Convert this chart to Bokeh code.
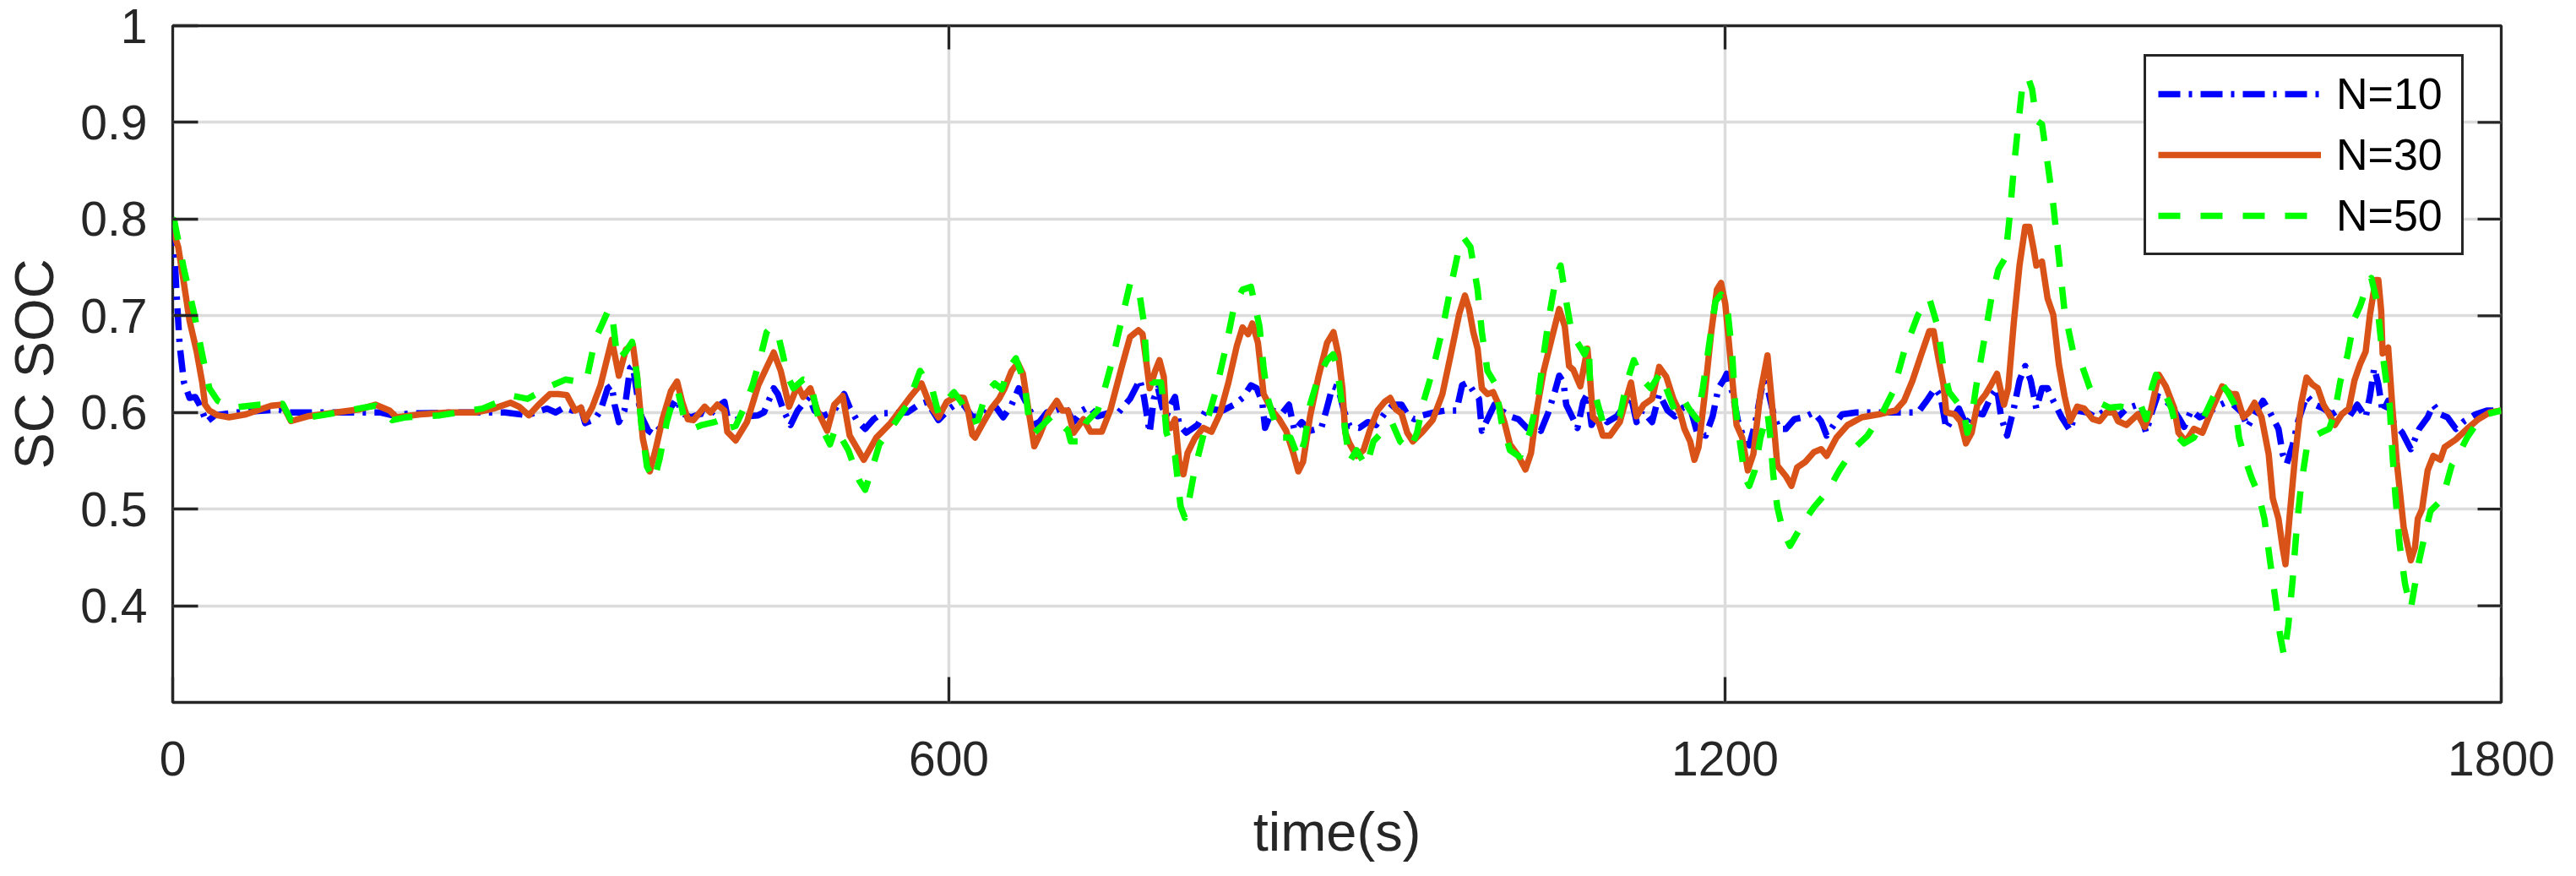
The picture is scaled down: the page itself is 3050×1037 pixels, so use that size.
import math
from bokeh.plotting import figure
from bokeh.models import Range1d, FixedTicker
from bokeh.embed import file_html
from bokeh.resources import INLINE

# ---------------- data ----------------
t10 = [0, 1.1, 3.2, 5.4, 8.7, 13.0, 17.4, 20.7, 26.1, 32.6, 50, 82.7, 87, 120, 160, 169.7, 185, 220, 256.8, 274.2, 289.4, 296,
       302.4, 309, 315.5, 318.8, 326.4, 330.7, 336.2, 339.4, 341.6, 344.9, 349.2, 353.6, 355.7, 359, 362.3, 367.7, 372.1, 378.6,
       385.1, 389.5, 393.8, 400.4, 409.1, 414.5, 420, 426.5, 428.7, 435.2, 443.9, 452.6, 457, 461.3, 464.6, 467.8, 472.2, 477.6,
       483.1, 488.5, 491.8, 496.1, 502.6, 511.4, 519, 523.3, 528.8, 535.3, 541.8, 548.3, 568, 576.6, 583.2, 591.9, 600.6, 605,
       611.5, 618.1, 624.6, 631.1, 636.6, 642, 648.5, 654, 658.3, 662.7, 668.1, 675.7, 682.3, 689.9, 696.4, 702.9, 708.4, 714.9,
       722.5, 731.2, 740, 744.3, 747.6, 750.8, 755.2, 758.4, 761.7, 765, 768.2, 771.5, 774.8, 778, 783.5, 792.2, 798.7, 805.2,
       811.8, 820.5, 827, 833.5, 837.9, 842.2, 844.4, 849.8, 857.5, 862.9, 867.2, 872.7, 879.2, 887.9, 892.3, 896.6, 901, 905.3,
       909.7, 917.3, 923.8, 930.3, 936.9, 943.4, 949.9, 955.4, 959.7, 966.2, 975, 983.6, 992.4, 996.7, 1001.1, 1005.4, 1009.8,
       1012, 1017.4, 1021.7, 1027.2, 1033.7, 1040.2, 1046.8, 1051.1, 1057.6, 1063.1, 1068.5, 1071.8, 1075.1, 1077.2, 1081.6,
       1085.9, 1090.3, 1093.6, 1096.8, 1102.3, 1108.8, 1116.4, 1122.9, 1127.3, 1131.6, 1136, 1143.6, 1149.1, 1155.6, 1161.1,
       1167.5, 1173, 1178.4, 1185, 1190.4, 1194.8, 1199.1, 1201.3, 1205.6, 1210, 1214.3, 1218.7, 1223, 1229.5, 1232.8, 1237.2,
       1241.5, 1247, 1253.5, 1261.1, 1268.7, 1274.2, 1278.5, 1284, 1290.5, 1301.4, 1349.2, 1355.8, 1362.3, 1366.6, 1371, 1376.4,
       1380.8, 1386.2, 1392.8, 1399.3, 1405.8, 1410.2, 1413.4, 1418, 1423.2, 1427.6, 1432, 1436.3, 1440.6, 1445, 1449.3, 1453.7,
       1460.2, 1466.8, 1471.1, 1479.8, 1486.3, 1497.2, 1503.7, 1510.3, 1519, 1525.5, 1529.8, 1534.2, 1540.7, 1545.1, 1550.5,
       1554.9, 1560.3, 1566.8, 1572.3, 1579.9, 1586.4, 1592.9, 1599.5, 1603.8, 1610.4, 1615.8, 1621.2, 1627.8, 1631, 1634.3,
       1638.7, 1643, 1649.5, 1656.1, 1662.6, 1669.1, 1675.7, 1682.2, 1688.7, 1695.2, 1698.5, 1701.8, 1705, 1708.3, 1712.6,
       1716.9, 1723.5, 1730.1, 1736.6, 1743.1, 1747.5, 1752.9, 1758.4, 1764.9, 1771.4, 1780.1, 1788.8, 1800]
v10 = [0.795, 0.771, 0.718, 0.669, 0.631, 0.615, 0.616, 0.608, 0.590, 0.597, 0.600, 0.603, 0.600, 0.600, 0.600, 0.597, 0.599, 0.600,
       0.600, 0.597, 0.604, 0.600, 0.605, 0.602, 0.605, 0.589, 0.593, 0.602, 0.625, 0.628, 0.608, 0.590, 0.602, 0.646, 0.648,
       0.619, 0.596, 0.581, 0.577, 0.587, 0.605, 0.614, 0.599, 0.595, 0.599, 0.596, 0.605, 0.611, 0.596, 0.592, 0.596, 0.597,
       0.600, 0.614, 0.625, 0.619, 0.602, 0.587, 0.602, 0.611, 0.616, 0.602, 0.596, 0.602, 0.619, 0.605, 0.592, 0.583, 0.593,
       0.599, 0.600, 0.608, 0.611, 0.592, 0.604, 0.608, 0.608, 0.595, 0.597, 0.606, 0.605, 0.595, 0.608, 0.625, 0.614, 0.602,
       0.587, 0.600, 0.602, 0.606, 0.590, 0.602, 0.606, 0.596, 0.599, 0.600, 0.614, 0.625, 0.634, 0.616, 0.579, 0.614, 0.625,
       0.605, 0.596, 0.608, 0.616, 0.587, 0.579, 0.587, 0.602, 0.603, 0.602, 0.608, 0.615, 0.628, 0.625, 0.611, 0.584, 0.602,
       0.599, 0.608, 0.581, 0.590, 0.581, 0.584, 0.605, 0.627, 0.625, 0.602, 0.586, 0.584, 0.590, 0.587, 0.599, 0.608, 0.608,
       0.596, 0.593, 0.597, 0.600, 0.602, 0.602, 0.628, 0.631, 0.622, 0.614, 0.581, 0.596, 0.608, 0.602, 0.596, 0.593, 0.584,
       0.593, 0.581, 0.599, 0.622, 0.638, 0.631, 0.608, 0.596, 0.584, 0.611, 0.619, 0.587, 0.602, 0.590, 0.596, 0.608, 0.616,
       0.590, 0.602, 0.590, 0.619, 0.602, 0.596, 0.605, 0.605, 0.579, 0.576, 0.596, 0.625, 0.634, 0.640, 0.621, 0.591, 0.574,
       0.566, 0.587, 0.633, 0.625, 0.600, 0.583, 0.583, 0.593, 0.595, 0.600, 0.591, 0.576, 0.587, 0.598, 0.600, 0.600, 0.612,
       0.625, 0.617, 0.583, 0.595, 0.604, 0.587, 0.600, 0.598, 0.617, 0.625, 0.595, 0.576, 0.604, 0.633, 0.648, 0.633, 0.604,
       0.625, 0.625, 0.612, 0.595, 0.581, 0.602, 0.600, 0.595, 0.605, 0.595, 0.604, 0.608, 0.579, 0.600, 0.617, 0.612, 0.606,
       0.595, 0.585, 0.602, 0.595, 0.598, 0.606, 0.610, 0.608, 0.600, 0.585, 0.600, 0.612, 0.600, 0.583, 0.557, 0.547, 0.566,
       0.591, 0.617, 0.608, 0.604, 0.598, 0.604, 0.595, 0.608, 0.595, 0.617, 0.646, 0.629, 0.600, 0.612, 0.589, 0.579, 0.562,
       0.583, 0.595, 0.608, 0.598, 0.595, 0.583, 0.591, 0.598, 0.602, 0.602]

t30 = [0, 2.2, 4.3, 8.7, 13.0, 18.5, 22.8, 25.0, 28.3, 34.8, 43.5, 56.6, 67.4, 76.2, 84.9, 91.4, 104.4, 126.2, 143.6, 156.7, 167.6,
       173.0, 191.5, 213.3, 235.0, 248.1, 261.1, 267.7, 275.3, 282.9, 291.6, 298, 304.6, 311.1, 315.5, 318.8, 324.2, 330.7, 339.4,
       344.9, 350.3, 355.7, 359, 363.4, 368.8, 373.2, 378.6, 385.1, 389.9, 393.8, 398.2, 402.5, 411.2, 415.6, 421, 426.5, 428.7,
       435.2, 443.9, 452.6, 464.6, 470, 476.5, 483.1, 487.4, 492.9, 498.3, 505.9, 511.4, 517.9, 523.3, 534.2, 544, 554.9, 570.1,
       578.8, 585.3, 591.9, 598.4, 605, 611.5, 614.8, 618.1, 620.2, 626.8, 633.3, 638.7, 643.1, 648.5, 653.3, 657.2, 661.6, 666,
       670.3, 676.8, 683.4, 687.7, 692.1, 696.4, 704, 709.5, 718.2, 724.7, 733.4, 740, 746.5, 749.7, 753, 755.2, 759.5, 762.8,
       766.1, 768.2, 771.5, 774.8, 778, 781.3, 784.5, 790, 796.5, 803, 809.6, 816.1, 822.6, 827, 831.3, 834.6, 838.9, 843.3,
       849.8, 855.3, 860.7, 866.2, 870.1, 873.8, 879.2, 885.7, 892.3, 897.3, 901, 904.2, 906.4, 909.7, 915.1, 920.5, 926, 931.4,
       936.9, 941.2, 945.6, 949.9, 954.3, 958.6, 966.2, 973.9, 981.5, 988, 994.5, 998.9, 1002.1, 1005.4, 1008.7, 1012, 1016.3,
       1020.7, 1025, 1029.4, 1033.7, 1040.2, 1045.7, 1050, 1054.4, 1059.8, 1066.3, 1071.8, 1076.1, 1079.4, 1082.7, 1088.1,
       1093.6, 1095.7, 1097.9, 1102.3, 1105.5, 1111, 1118.6, 1124, 1127.3, 1131.6, 1137.1, 1143.6, 1149.1, 1154.5, 1160, 1165.4,
       1168.6, 1173, 1176.3, 1179.5, 1183.9, 1189.3, 1193.7, 1196.9, 1200.2, 1204.5, 1208.9, 1213.2, 1217.6, 1221.9, 1227.4,
       1232.8, 1236.1, 1240.4, 1247, 1251.3, 1255.7, 1262.2, 1268.7, 1274.2, 1278.5, 1286.1, 1294.8, 1305.7, 1318.8, 1331.8,
       1338.4, 1344.9, 1351.4, 1357.9, 1361.2, 1364.5, 1368.8, 1371, 1377.5, 1381.9, 1386.2, 1390.6, 1395, 1401.5, 1405.8,
       1410.2, 1413.4, 1415.6, 1418.9, 1423.2, 1427.6, 1432, 1435.2, 1438.5, 1440.6, 1445, 1449.3, 1453.7, 1458, 1462.4, 1466.8,
       1472.2, 1477.6, 1484.2, 1489.6, 1495, 1500.5, 1503.7, 1510.3, 1519, 1524.4, 1528.8, 1535.3, 1540.7, 1547.3, 1550.5, 1556,
       1562.5, 1569, 1576.6, 1584.3, 1590.8, 1595.1, 1600.6, 1605, 1609.3, 1614.7, 1620.2, 1623.4, 1627.8, 1631, 1633.2, 1636.5,
       1640.8, 1645.2, 1649.5, 1653.9, 1658.2, 1662.6, 1667, 1671.3, 1676.7, 1682.2, 1686.5, 1690.9, 1695.2, 1698.5, 1702.9,
       1705, 1707.2, 1708.3, 1712.6, 1715.9, 1719.2, 1724.6, 1730.1, 1733.3, 1735.5, 1738.8, 1743.1, 1747.5, 1752.9, 1756.2,
       1764.9, 1773.6, 1782.3, 1791, 1800]
v30 = [0.795, 0.780, 0.771, 0.733, 0.695, 0.663, 0.631, 0.608, 0.602, 0.597, 0.595, 0.598, 0.603, 0.607, 0.608, 0.591, 0.596, 0.600,
       0.603, 0.608, 0.602, 0.595, 0.598, 0.600, 0.600, 0.604, 0.610, 0.606, 0.597, 0.608, 0.619, 0.619, 0.618, 0.602, 0.605,
       0.592, 0.605, 0.628, 0.675, 0.638, 0.665, 0.670, 0.637, 0.573, 0.539, 0.561, 0.593, 0.622, 0.632, 0.611, 0.593, 0.592,
       0.606, 0.600, 0.608, 0.602, 0.580, 0.571, 0.590, 0.628, 0.662, 0.643, 0.606, 0.628, 0.616, 0.625, 0.602, 0.581, 0.608,
       0.617, 0.576, 0.551, 0.574, 0.589, 0.616, 0.630, 0.608, 0.595, 0.611, 0.616, 0.615, 0.602, 0.577, 0.574, 0.590, 0.605,
       0.614, 0.625, 0.643, 0.651, 0.640, 0.602, 0.565, 0.577, 0.599, 0.612, 0.602, 0.602, 0.579, 0.593, 0.580, 0.580, 0.602,
       0.646, 0.678, 0.685, 0.681, 0.648, 0.625, 0.643, 0.654, 0.637, 0.590, 0.584, 0.593, 0.549, 0.536, 0.558, 0.573, 0.584,
       0.580, 0.599, 0.631, 0.669, 0.688, 0.681, 0.692, 0.672, 0.619, 0.602, 0.593, 0.581, 0.558, 0.539, 0.549, 0.596, 0.637,
       0.672, 0.683, 0.660, 0.625, 0.579, 0.568, 0.555, 0.561, 0.584, 0.602, 0.611, 0.615, 0.603, 0.599, 0.579, 0.570, 0.580,
       0.592, 0.619, 0.660, 0.702, 0.721, 0.707, 0.683, 0.666, 0.625, 0.619, 0.621, 0.608, 0.590, 0.567, 0.555, 0.541, 0.558,
       0.602, 0.643, 0.678, 0.707, 0.689, 0.648, 0.644, 0.627, 0.666, 0.634, 0.595, 0.590, 0.576, 0.576, 0.590, 0.616, 0.631,
       0.596, 0.608, 0.614, 0.647, 0.637, 0.614, 0.599, 0.583, 0.570, 0.551, 0.564, 0.614, 0.683, 0.727, 0.734, 0.712, 0.650,
       0.587, 0.574, 0.540, 0.557, 0.621, 0.659, 0.612, 0.545, 0.534, 0.524, 0.543, 0.549, 0.559, 0.562, 0.555, 0.574, 0.587,
       0.595, 0.598, 0.602, 0.612, 0.633, 0.659, 0.684, 0.684, 0.659, 0.629, 0.600, 0.598, 0.591, 0.568, 0.579, 0.608, 0.619,
       0.629, 0.640, 0.621, 0.608, 0.625, 0.693, 0.752, 0.792, 0.792, 0.769, 0.752, 0.756, 0.718, 0.701, 0.650, 0.617, 0.591,
       0.606, 0.604, 0.593, 0.591, 0.600, 0.600, 0.591, 0.587, 0.598, 0.585, 0.600, 0.639, 0.627, 0.604, 0.579, 0.570, 0.583,
       0.579, 0.604, 0.627, 0.619, 0.619, 0.595, 0.600, 0.610, 0.595, 0.557, 0.511, 0.490, 0.460, 0.443, 0.494, 0.557, 0.608,
       0.636, 0.629, 0.625, 0.608, 0.598, 0.587, 0.598, 0.604, 0.633, 0.650, 0.663, 0.701, 0.737, 0.737, 0.705, 0.661, 0.667,
       0.604, 0.549, 0.481, 0.447, 0.460, 0.490, 0.500, 0.540, 0.555, 0.551, 0.564, 0.572, 0.583, 0.593, 0.600, 0.602]

t50 = [0, 1.1, 8.7, 16.3, 22.8, 28.3, 34.8, 45.7, 67.4, 84.9, 91.4, 115.3, 148, 156.7, 169.7, 180.6, 206.7, 239.4, 263.3, 274.2,
       291.6, 303.5, 317.7, 320.9, 326.4, 337.2, 340.5, 343.8, 350.3, 355.1, 359, 362.3, 366.6, 372.1, 376.4, 381.9, 387.3, 390.6,
       396, 403.6, 409.1, 418.9, 424.3, 427.6, 435.2, 441.7, 448.2, 453.7, 459.1, 462.4, 467.8, 471.1, 475.4, 479.8, 487.4, 492.9,
       497.2, 500.5, 508.1, 512.4, 522.2, 530.9, 535.3, 541.8, 546.2, 557.1, 568, 577.7, 587.5, 591.9, 598, 603.9, 609.4, 618.1,
       622.4, 629, 635.5, 640.9, 646.4, 651.8, 658.3, 662.7, 666, 672.5, 680.1, 692.1, 694.2, 700.8, 706.2, 715, 719.3, 725.8,
       733.4, 740, 746.5, 750.8, 753, 757.3, 763.9, 767.1, 768.2, 774.8, 779.1, 782.4, 785.6, 790, 794.4, 798.7, 806.3, 813.9,
       820.5, 827, 833.5, 840.1, 843.3, 846.6, 852, 857.5, 864, 870.5, 874.9, 879.2, 885.7, 892.3, 897, 899.9, 903.1, 906.4,
       909.7, 915.1, 922.7, 928.2, 935.8, 942.3, 948.8, 956.4, 961.9, 966.2, 973.9, 981.5, 988, 994.5, 997.8, 1003.2, 1008.7,
       1012, 1016.3, 1021.7, 1025, 1027.2, 1033.7, 1041.3, 1049, 1055.5, 1059.8, 1064.2, 1069.6, 1072.9, 1077.2, 1081.6, 1086,
       1091.4, 1094.6, 1095.7, 1100.1, 1105.5, 1112, 1118.6, 1124, 1129.5, 1136, 1142.5, 1150.1, 1154.5, 1161, 1167.5, 1173,
       1178.4, 1182.8, 1188.2, 1192.6, 1196.9, 1202.3, 1205.6, 1207.8, 1211, 1215.4, 1218.7, 1223, 1227.4, 1232.8, 1235, 1237.2,
       1240.4, 1244.8, 1250.2, 1260, 1268.7, 1279.6, 1288.3, 1299.2, 1310.1, 1321, 1329.7, 1338.4, 1349.2, 1357.9, 1364.5,
       1368.8, 1373.2, 1379.7, 1384.1, 1387.3, 1390.6, 1393.9, 1399.3, 1405.8, 1411.3, 1416.7, 1420, 1423.2, 1426.5, 1429.8,
       1434.1, 1437.4, 1440.6, 1445, 1449.3, 1453.7, 1458, 1462.4, 1469, 1475.5, 1482, 1489.6, 1497.2, 1505.9, 1512.4, 1521.1,
       1525.5, 1529.8, 1533.1, 1539.6, 1545.1, 1550.5, 1554.9, 1562.5, 1570.1, 1577.7, 1583.2, 1588.6, 1594, 1597.3, 1601.7,
       1607.1, 1612.5, 1616.9, 1621.2, 1625.6, 1628.9, 1632.1, 1635.4, 1638.7, 1641.9, 1645.2, 1649.5, 1653.9, 1660.4, 1667,
       1671.3, 1675.7, 1681.1, 1686.5, 1690.9, 1695.2, 1699.6, 1704, 1707.2, 1710.5, 1713.7, 1715.9, 1718.1, 1721.4, 1725.7,
       1730.1, 1733.3, 1736.6, 1740.9, 1745.3, 1751.8, 1757.3, 1761.6, 1767.1, 1773.6, 1780.1, 1788.8, 1800]
v50 = [0.800, 0.799, 0.748, 0.704, 0.660, 0.625, 0.612, 0.605, 0.608, 0.609, 0.592, 0.597, 0.605, 0.607, 0.592, 0.595, 0.597, 0.604,
       0.617, 0.614, 0.627, 0.634, 0.631, 0.640, 0.675, 0.707, 0.692, 0.654, 0.663, 0.673, 0.637, 0.587, 0.544, 0.530, 0.552,
       0.590, 0.616, 0.622, 0.590, 0.584, 0.587, 0.590, 0.593, 0.583, 0.586, 0.605, 0.628, 0.654, 0.683, 0.688, 0.681, 0.663,
       0.637, 0.625, 0.634, 0.632, 0.605, 0.587, 0.567, 0.584, 0.561, 0.529, 0.520, 0.547, 0.567, 0.587, 0.608, 0.643, 0.622,
       0.599, 0.612, 0.621, 0.611, 0.590, 0.592, 0.621, 0.630, 0.624, 0.646, 0.656, 0.631, 0.584, 0.579, 0.587, 0.597, 0.581,
       0.570, 0.570, 0.590, 0.602, 0.619, 0.651, 0.695, 0.733, 0.730, 0.692, 0.648, 0.631, 0.631, 0.596, 0.579, 0.555, 0.503,
       0.491, 0.509, 0.541, 0.564, 0.587, 0.622, 0.666, 0.710, 0.727, 0.730, 0.689, 0.646, 0.614, 0.590, 0.574, 0.574, 0.552,
       0.570, 0.608, 0.637, 0.654, 0.660, 0.648, 0.616, 0.581, 0.549, 0.561, 0.544, 0.570, 0.581, 0.590, 0.570, 0.561, 0.579,
       0.608, 0.643, 0.686, 0.730, 0.771, 0.781, 0.771, 0.727, 0.683, 0.643, 0.631, 0.608, 0.590, 0.561, 0.554, 0.579, 0.616,
       0.660, 0.701, 0.742, 0.752, 0.715, 0.681, 0.672, 0.660, 0.672, 0.628, 0.616, 0.590, 0.589, 0.596, 0.631, 0.654, 0.634,
       0.625, 0.641, 0.625, 0.602, 0.614, 0.602, 0.593, 0.625, 0.675, 0.715, 0.722, 0.701, 0.659, 0.608, 0.574, 0.532, 0.524,
       0.540, 0.574, 0.600, 0.574, 0.536, 0.502, 0.477, 0.462, 0.485, 0.502, 0.519, 0.540, 0.562, 0.576, 0.598, 0.621, 0.663,
       0.701, 0.718, 0.688, 0.646, 0.621, 0.610, 0.604, 0.579, 0.595, 0.625, 0.667, 0.718, 0.748, 0.760, 0.803, 0.853, 0.896,
       0.938, 0.947, 0.934, 0.902, 0.898, 0.858, 0.815, 0.760, 0.705, 0.663, 0.650, 0.625, 0.610, 0.605, 0.606, 0.604, 0.608,
       0.593, 0.625, 0.639, 0.621, 0.604, 0.574, 0.568, 0.574, 0.595, 0.617, 0.631, 0.621, 0.608, 0.574, 0.553, 0.532, 0.515,
       0.490, 0.447, 0.405, 0.371, 0.348, 0.380, 0.426, 0.481, 0.524, 0.562, 0.574, 0.579, 0.583, 0.600, 0.633, 0.659, 0.697,
       0.710, 0.727, 0.739, 0.714, 0.672, 0.638, 0.608, 0.557, 0.515, 0.464, 0.422, 0.397, 0.422, 0.447, 0.473, 0.498, 0.507,
       0.524, 0.545, 0.557, 0.574, 0.587, 0.598, 0.602]

x_ticks = [0, 600, 1200, 1800]
y_ticks = [0.4, 0.5, 0.6, 0.7, 0.8, 0.9, 1.0]
y_tick_labels = ["0.4", "0.5", "0.6", "0.7", "0.8", "0.9", "1"]
series_labels = ["N=10", "N=30", "N=50"]
x_min, x_max = 0, 1800
y_min, y_max = 0.3, 1.0

# ---------------- style ----------------
FONT = "Liberation Sans"
DARK = "#262626"

p = figure(frame_width=2757, frame_height=801,
           x_range=Range1d(x_min, x_max), y_range=Range1d(y_min, y_max),
           output_backend="svg", toolbar_location=None,
           min_border_left=204, min_border_right=73,
           min_border_top=30, min_border_bottom=184,
           background_fill_color="white", border_fill_color="white")

p.outline_line_color = DARK
p.outline_line_width = 3.3
p.outline_line_alpha = 1.0

xt = FixedTicker(ticks=x_ticks)
yt = FixedTicker(ticks=y_ticks)

for ax in (p.xaxis[0], p.yaxis[0]):
    ax.axis_line_color = None
    ax.major_tick_in = 30
    ax.major_tick_out = 0
    ax.minor_tick_line_color = None
    ax.major_tick_line_color = DARK
    ax.major_tick_line_width = 3.3
    ax.major_label_text_font = FONT
    ax.major_label_text_font_size = "57px"
    ax.major_label_text_color = DARK
    ax.axis_label_text_font = FONT
    ax.axis_label_text_font_size = "65px"
    ax.axis_label_text_font_style = "normal"
    ax.axis_label_text_color = DARK

p.xaxis[0].ticker = xt
p.yaxis[0].ticker = yt
p.yaxis[0].major_label_overrides = {t: lab for t, lab in zip(y_ticks, y_tick_labels)}
p.xaxis[0].axis_label = "time(s)"
p.yaxis[0].axis_label = "SC SOC"
p.xaxis[0].major_label_standoff = 46
p.xaxis[0].axis_label_standoff = 27
p.yaxis[0].major_label_standoff = 30
p.yaxis[0].axis_label_standoff = 15

p.xgrid.ticker = xt
p.ygrid.ticker = yt
for g in (p.xgrid[0], p.ygrid[0]):
    g.grid_line_color = "#DCDCDC"
    g.grid_line_width = 3.5

# mirrored tick marks on the right and top edges (box on)
inner_y = [y for y in y_ticks if y_min < y < y_max]
inner_x = [x for x in x_ticks if x_min < x < x_max]
p.ray(x=[x_max] * len(inner_y), y=inner_y, length=28, length_units="screen",
      angle=math.pi, line_color=DARK, line_width=3.3)
p.ray(x=inner_x, y=[y_max] * len(inner_x), length=28, length_units="screen",
      angle=-math.pi / 2, line_color=DARK, line_width=3.3)

p.line(t10, v10, line_color="#0000FF", line_width=7.5, line_dash="26 10 4 10",
       line_join="round", legend_label=series_labels[0])
p.line(t30, v30, line_color="#D95319", line_width=7.5,
       line_join="round", legend_label=series_labels[1])
p.line(t50, v50, line_color="#00FF00", line_width=7.5, line_dash="26 24",
       line_join="round", legend_label=series_labels[2])

lg = p.legend[0]
lg.location = (2334, 529)
lg.padding = 14
lg.spacing = 12
lg.margin = 0
lg.glyph_width = 193
lg.glyph_height = 60
lg.label_height = 60
lg.label_width = 134
lg.label_standoff = 18
lg.label_text_font = FONT
lg.label_text_font_size = "52px"
lg.label_text_color = "#000000"
lg.border_line_color = DARK
lg.border_line_width = 3.3
lg.border_line_alpha = 1.0
lg.background_fill_color = "white"
lg.background_fill_alpha = 1.0

open("out.html", "w").write(file_html(p, INLINE))
